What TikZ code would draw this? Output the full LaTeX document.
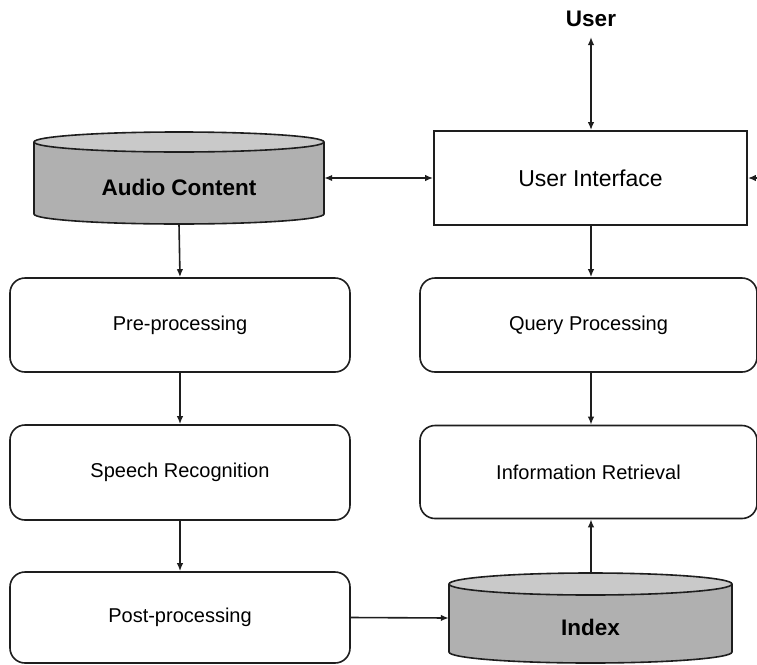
\documentclass[tikz,border=0pt]{standalone}
\usepackage{fontspec}
\setmainfont{Liberation Sans}
\usetikzlibrary{arrows.meta}
\definecolor{linegray}{HTML}{1E1E1E}
\definecolor{bodygray}{HTML}{B0B0B0}
\definecolor{topgray}{HTML}{C9C9C9}
\tikzset{
  conn/.style={draw=linegray, line width=1.6pt, -{Latex[length=8pt,width=6.5pt]}},
  bothconn/.style={draw=linegray, line width=1.6pt, {Latex[length=8pt,width=6.5pt]}-{Latex[length=8pt,width=6.5pt]}},
  procbox/.style={draw=linegray, line width=1.6pt, rounded corners=15pt, fill=white,
    inner sep=0pt, font=\fontsize{20}{24}\selectfont},
  uibox/.style={draw=linegray, line width=1.8pt, fill=white, inner sep=0pt,
    font=\fontsize{23}{27}\selectfont},
  dbarea/.style={inner sep=0pt, minimum width=0pt},
  dblabel/.style={font=\bfseries\fontsize{22.5}{27}\selectfont},
  cylbody/.style={fill=bodygray},
  cylline/.style={draw=linegray, line width=1.6pt},
  cyltop/.style={fill=topgray, draw=linegray, line width=1.6pt}
}
\begin{document}
\begin{tikzpicture}[x=1pt,y=1pt]
\clip (0,0) rectangle (757,-664);
\fill[white] (0,0) rectangle (757,-664);

% Audio Content cylinder
\fill[cylbody] (34,-142) -- (34,-214) arc[start angle=180,end angle=360,x radius=145,y radius=10] -- (324,-142) -- cycle;
\draw[cylline] (34,-142) -- (34,-214) arc[start angle=180,end angle=360,x radius=145,y radius=10] -- (324,-142);
\filldraw[cyltop] (179,-142) ellipse[x radius=145,y radius=10];
\node[dbarea, minimum width=290pt, minimum height=92pt] (audio) at (179,-178) {};
\node[dblabel] (audiotext) at (179,-187) {Audio Content};

% Index cylinder
\fill[cylbody] (449,-584) -- (449,-652) arc[start angle=180,end angle=360,x radius=141.5,y radius=11] -- (732,-584) -- cycle;
\draw[cylline] (449,-584) -- (449,-652) arc[start angle=180,end angle=360,x radius=141.5,y radius=11] -- (732,-584);
\filldraw[cyltop] (590.5,-584) ellipse[x radius=141.5,y radius=11];
\node[dbarea, minimum width=283pt, minimum height=90pt] (index) at (590.5,-618) {};
\node[dblabel] (indextext) at (590.5,-627) {Index};

% Left column
\node[procbox, minimum width=340pt, minimum height=94pt] (pre) at (180,-325) {Pre-processing};
\node[procbox, minimum width=340pt, minimum height=95pt] (speech) at (180,-472.5) {Speech Recognition};
\node[procbox, minimum width=340pt, minimum height=91pt] (post) at (180,-617.5) {Post-processing};

% Right column
\node[uibox, minimum width=313pt, minimum height=94pt] (ui) at (590.5,-178) {User Interface};
\node[procbox, minimum width=337pt, minimum height=94pt] (query) at (588.5,-325) {Query Processing};
\node[procbox, minimum width=337pt, minimum height=93pt] (ir) at (588.5,-472) {Information Retrieval};

\node[dblabel, anchor=center] (user) at (591,-19) {User};
\coordinate (userend) at (591,-37);
\coordinate (rightin) at (775,-178);

% Connectors
\draw[bothconn] (userend) -- (ui.north -| userend);
\draw[bothconn] (audio.east) -- (ui.west);
\draw[conn] (rightin) -- (ui.east);
\draw[conn] (audio.south) -- (pre.north);
\draw[conn] (pre.south) -- (speech.north);
\draw[conn] (speech.south) -- (post.north);
\draw[conn] (ui.south -| userend) -- (query.north -| userend);
\draw[conn] (query.south -| userend) -- (ir.north -| userend);
\draw[conn] (index.north -| userend) -- (ir.south -| userend);
\draw[conn] (post.east) -- (index.west);
\end{tikzpicture}
\end{document}
